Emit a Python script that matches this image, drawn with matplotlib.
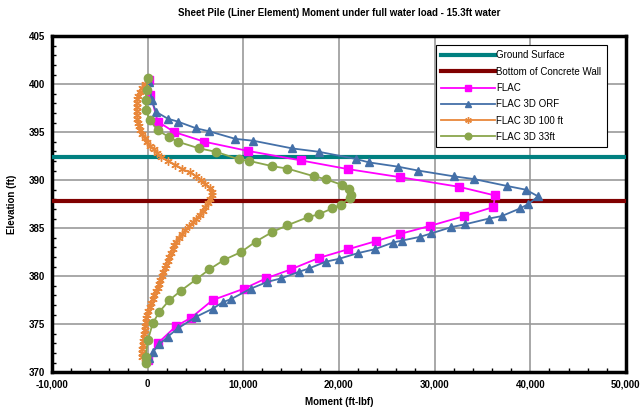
import matplotlib
matplotlib.use('Agg')
import matplotlib.pyplot as plt
from matplotlib.ticker import MultipleLocator, FuncFormatter

plt.rcParams['font.family'] = ['Liberation Sans', 'DejaVu Sans']

# elevation levels of the horizontal reference lines
ground_elev = 392.4
wall_elev = 387.8
ref_x = [-10000, 50000]

# FLAC (magenta squares)
flac_elev = [400.4, 398.9, 396.1, 395.0, 394.0, 393.05, 392.05, 391.15, 390.3, 389.3,
             388.4, 387.2, 386.25, 385.24, 384.4, 383.65, 382.8, 381.9, 380.7, 379.76,
             378.7, 377.5, 375.66, 374.8, 373.0, 371.25]
flac_m = [200, 300, 1070, 2810, 5940, 10450, 16040, 20940, 26430, 32570,
          36320, 36150, 33090, 29550, 26430, 23890, 20970, 17920, 14970, 12370,
          10100, 6800, 4550, 2990, 1070, 30]

# FLAC 3D ORF (blue triangles)
orf_elev = [400.2, 398.3, 397.1, 396.4, 396.1, 395.4, 395.1, 394.3, 394.1, 393.3,
            392.95, 392.2, 391.85, 391.4, 391.0, 390.4, 390.1, 389.4, 389.0, 388.3,
            387.5, 387.05, 386.25, 386.0, 385.4, 385.1, 384.45, 384.1, 383.7, 383.5,
            382.8, 382.4, 381.8, 381.5, 380.8, 380.45, 379.76, 379.4, 378.7, 377.6,
            377.3, 376.6, 375.76, 374.55, 373.7, 372.9, 372.1, 371.5]
orf_m = [200, 420, 910, 2120, 3160, 5070, 6390, 9170, 11070, 15140,
         17920, 21800, 23130, 26180, 28260, 31980, 34170, 37530, 39550, 40830,
         39790, 38930, 37010, 35700, 33200, 31740, 29660, 28510, 26590, 25660,
         23750, 22010, 20000, 18620, 16880, 15830, 13930, 12530, 10800, 8720,
         7900, 6800, 5070, 3160, 2120, 1250, 550, 200]

# FLAC 3D 100 ft (orange stars)
f100_elev = [400.0, 399.6, 399.2, 398.8, 398.4, 398.0, 397.6, 397.2, 396.8, 396.4,
             396.0, 395.6, 395.2, 394.8, 394.4, 394.0, 393.6, 393.2, 392.8, 392.4,
             392.0, 391.6, 391.2, 390.8, 390.4, 390.0, 389.6, 389.2, 388.8, 388.4,
             388.0, 387.6, 387.2, 386.8, 386.4, 386.0, 385.6, 385.2, 384.8, 384.4,
             384.0, 383.6, 383.2, 382.8, 382.4, 382.0, 381.6, 381.2, 380.8, 380.4,
             380.0, 379.6, 379.2, 378.8, 378.4, 378.0, 377.6, 377.2, 376.8, 376.4,
             376.0, 375.6, 375.2, 374.8, 374.4, 374.0, 373.6, 373.2, 372.8, 372.4,
             372.0, 371.6]
f100_m = [-300, -600, -800, -950, -1050, -1100, -1150, -1150, -1100, -1050,
          -1000, -900, -750, -550, -300, -50, 250, 650, 1000, 1450,
          2150, 2900, 3600, 4400, 5100, 5600, 6050, 6500, 6750, 6700,
          6550, 6350, 6050, 5750, 5450, 5100, 4750, 4300, 3950, 3600,
          3250, 3000, 2800, 2650, 2450, 2250, 2100, 1950, 1780, 1620,
          1480, 1350, 1200, 1050, 850, 700, 550, 380, 220, 80,
          -40, -130, -200, -260, -310, -370, -420, -480, -520, -550,
          -560, -560]

# FLAC 3D 33ft (green circles)
f33_elev = [400.6, 399.4, 398.3, 397.3, 396.25, 395.2, 394.45, 394.0, 393.3, 392.95,
            392.15, 392.0, 391.45, 391.2, 390.4, 390.1, 389.5, 389.1, 388.5, 388.1,
            387.45, 387.05, 386.45, 386.15, 385.3, 384.6, 383.6, 382.5, 381.7, 380.7,
            379.65, 378.5, 377.5, 376.3, 375.1, 373.3, 371.6, 370.9]
f33_m = [30, -100, -210, -140, 210, 1070, 2290, 3160, 5420, 7160,
         9580, 10630, 13050, 14620, 17400, 18620, 20340, 21040, 21220, 21120,
         20210, 19300, 17920, 16800, 14620, 13050, 11320, 9760, 8020, 6460,
         5070, 3510, 2290, 1250, 550, 30, -210, -140]

fig = plt.figure(figsize=(6.4, 4.2), dpi=100)
ax = fig.add_axes([0.081, 0.114, 0.897, 0.8])

ax.plot(ref_x, [ground_elev] * 2, color='#008080', lw=3, label='Ground Surface', zorder=3)
ax.plot(ref_x, [wall_elev] * 2, color='#800000', lw=3, label='Bottom of Concrete Wall', zorder=3)
ax.plot(flac_m, flac_elev, color='#FF00FF', lw=1.3, marker='s', ms=5.5, label='FLAC', zorder=4)
ax.plot(orf_m, orf_elev, color='#4470A8', lw=1.3, marker='^', ms=6, label='FLAC 3D ORF', zorder=4)
ax.plot(f100_m, f100_elev, color='#E8873A', lw=1.3, marker=(6, 2, 0), ms=6, mew=1,
        label='FLAC 3D 100 ft', zorder=4)
ax.plot(f33_m, f33_elev, color='#8AA64C', lw=1.3, marker='o', ms=6, label='FLAC 3D 33ft', zorder=4)

ax.set_xlim(-10000, 50000)
ax.set_ylim(370, 405)
ax.xaxis.set_major_locator(MultipleLocator(10000))
ax.xaxis.set_minor_locator(MultipleLocator(2000))
ax.yaxis.set_major_locator(MultipleLocator(5))
ax.yaxis.set_minor_locator(MultipleLocator(1))
ax.xaxis.set_major_formatter(FuncFormatter(lambda v, p: '{:,.0f}'.format(v)))
ax.grid(True, which='major', color='#999999', lw=1.2, zorder=0)
ax.set_axisbelow(True)
ax.tick_params(which='both', direction='in', labelsize=7)
ax.tick_params(which='major', length=0, pad=5)
ax.tick_params(which='minor', length=3, width=1)
for lbl in ax.get_xticklabels() + ax.get_yticklabels():
    lbl.set_fontweight('bold')
for s in ax.spines.values():
    s.set_linewidth(2.5)

ax.set_xlabel('Moment (ft-lbf)', fontsize=7, fontweight='bold', labelpad=6)
ax.set_ylabel('Elevation (ft)', fontsize=7, fontweight='bold', labelpad=8)
fig.suptitle('Sheet Pile (Liner Element) Moment under full water load - 15.3ft water',
             fontsize=7, fontweight='bold', x=0.53, y=0.98)

leg = ax.legend(loc='upper right', bbox_to_anchor=(0.948, 0.893), bbox_transform=fig.transFigure,
                fontsize=7, frameon=True, fancybox=False, framealpha=1, edgecolor='black',
                borderpad=0.55, labelspacing=0.65, handlelength=5.6, handletextpad=0.1,
                borderaxespad=0, markerscale=0.8)
leg.get_frame().set_linewidth(0.8)
fig.canvas.draw()
# widen the legend box a bit toward the right, as in the original
frame = leg.get_frame()
frame.set_width(frame.get_width() + 12)

fig.savefig('out.png', dpi=100)
